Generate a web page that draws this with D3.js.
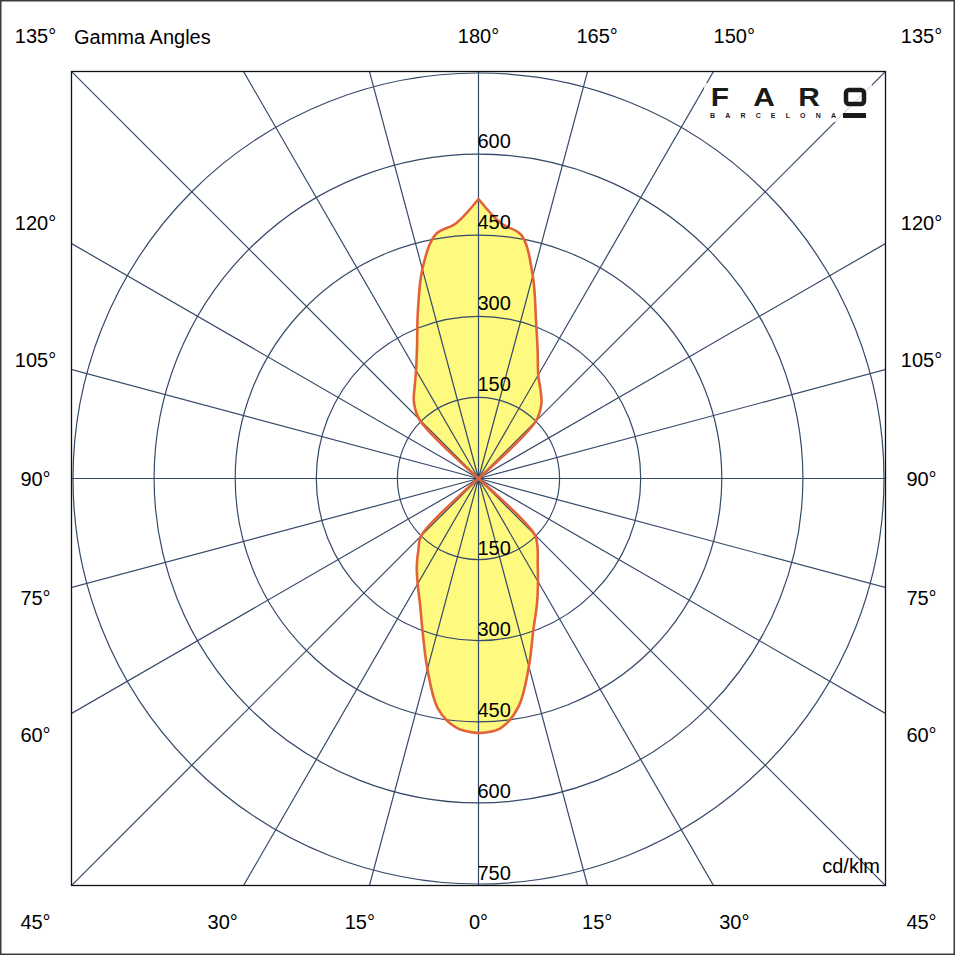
<!DOCTYPE html>
<html>
<head>
<meta charset="utf-8">
<script src="https://cdn.jsdelivr.net/npm/d3@7"></script>
<style>
  html, body { margin: 0; padding: 0; background: #fff; }
  svg { display: block; }
  text { font-family: "Liberation Sans", Arial, sans-serif; fill: #000; }
</style>
</head>
<body>
<div id="chart"></div>
<script>
// ---- data ----
const gammaAngles = [0,5,10,15,20,25,30,35,40,45,50,55,60,65,70,75,80,85,90,95,100,105,110,115,120,125,130,135,140,145,150,155,160,165,170,175,180];
// right half of the diagram (cd/klm)
const rightPlane = [471,464,428,360,297,256,220,191,170,147,0,0,0,0,0,0,0,0,0,0,0,0,0,0,0,0,0,150,181,200,221,259,311,388,457,474,517];
// left half of the diagram (cd/klm)
const leftPlane  = [471,463,432,365,302,256,225,199,173,150,0,0,0,0,0,0,0,0,0,0,0,0,0,0,0,0,0,155,186,206,231,269,328,401,458,474,517];
const radialTicks = [150, 300, 450, 600, 750];
const topValueLabels = ["150", "300", "450", "600"];
const bottomValueLabels = ["150", "300", "450", "600", "750"];
const angleTicks = [0, 15, 30, 45, 60, 75, 90, 105, 120, 135, 150, 165, 180];
const spokeAngles = d3.range(0, 360, 15);
const unitLabel = "cd/klm";
const titleLabel = "Gamma Angles";

// ---- layout ----
const W = 957, H = 957;
const cx = 478.5, cy = 478.5;
const frameHalf = 407;
const labelHalf = 443;
const rMax = 405.5;

const svg = d3.select("#chart").append("svg").attr("width", W).attr("height", H);

svg.append("rect").attr("x", 0.75).attr("y", 0.75).attr("width", 953.5).attr("height", 953.5)
  .attr("fill", "#fff").attr("stroke", "#3a3a3a").attr("stroke-width", 1.5);

const r = d3.scaleLinear().domain([0, 750]).range([0, rMax]);

svg.append("clipPath").attr("id", "plotclip").append("rect")
  .attr("x", cx - frameHalf).attr("y", cy - frameHalf)
  .attr("width", frameHalf * 2).attr("height", frameHalf * 2);

const plot = svg.append("g").attr("clip-path", "url(#plotclip)");
const g = plot.append("g").attr("transform", `translate(${cx},${cy})`);

// curve points: right side gamma 0..180 then left side 180..0
const pts = [];
gammaAngles.forEach((ga, i) => pts.push({ a: Math.PI - ga * Math.PI / 180, v: rightPlane[i] }));
for (let i = gammaAngles.length - 1; i >= 0; i--) {
  pts.push({ a: Math.PI + gammaAngles[i] * Math.PI / 180, v: leftPlane[i] });
}
const radial = d3.lineRadial().angle(d => d.a).radius(d => r(d.v)).curve(d3.curveCatmullRomClosed.alpha(0.5));

// fill
g.append("path").attr("d", radial(pts)).attr("fill", "#fef97f").attr("stroke", "none");

// grid circles
const gridColor = "#354968";
g.selectAll("circle.grid").data(radialTicks).join("circle")
  .attr("class", "grid").attr("r", d => r(d))
  .attr("fill", "none").attr("stroke", gridColor).attr("stroke-width", 1.2);

// spokes
g.selectAll("line.spoke").data(spokeAngles).join("line")
  .attr("class", "spoke")
  .attr("x1", 0).attr("y1", 0)
  .attr("x2", d => Math.sin(d * Math.PI / 180) * 700)
  .attr("y2", d => Math.cos(d * Math.PI / 180) * 700)
  .attr("stroke", gridColor).attr("stroke-width", 1.2);

// outline
g.append("path").attr("d", radial(pts)).attr("fill", "none")
  .attr("stroke", "#e2623a").attr("stroke-width", 2.6).attr("stroke-linejoin", "round");

// frame
svg.append("rect").attr("x", cx - frameHalf).attr("y", cy - frameHalf)
  .attr("width", frameHalf * 2).attr("height", frameHalf * 2)
  .attr("fill", "none").attr("stroke", "#111").attr("stroke-width", 1.3);

// value labels
const vl = svg.append("g").attr("font-size", 20);
topValueLabels.forEach((t, i) => {
  vl.append("text").attr("x", cx - 1).attr("y", cy - r(radialTicks[i]) - 6).text(t);
});
bottomValueLabels.forEach((t, i) => {
  vl.append("text").attr("x", cx - 1).attr("y", cy + r(radialTicks[i]) - 4.5).text(t);
});

// angle labels (top row shows only the right-hand side, plus the 135° corners)
const al = svg.append("g").attr("font-size", 20);
const seen = new Set();
angleTicks.forEach(ga => {
  [1, -1].forEach(s => {
    if (s === -1 && (ga === 0 || ga > 135)) return;
    const dx = s * Math.sin(ga * Math.PI / 180), dy = Math.cos(ga * Math.PI / 180);
    const t = labelHalf / Math.max(Math.abs(dx), Math.abs(dy));
    const x = cx + dx * t, y = cy + dy * t;
    const key = Math.round(x) + "," + Math.round(y);
    if (seen.has(key)) return;
    seen.add(key);
    al.append("text").attr("x", x).attr("y", y + 7.5).attr("text-anchor", "middle").text(ga + "°");
  });
});

svg.append("text").attr("x", 74).attr("y", 43.5).attr("font-size", 20).text(titleLabel);
svg.append("text").attr("x", 880).attr("y", 873).attr("font-size", 20).attr("text-anchor", "end").text(unitLabel);

// logo
const logo = svg.append("g");
logo.append("rect").attr("x", 704).attr("y", 83).attr("width", 168).attr("height", 39).attr("fill", "#fff").attr("opacity", 0.8);
const logoLetters = ["F", "A", "R"];
const logoX = [720, 764, 809];
logoLetters.forEach((l, i) => {
  logo.append("text").attr("x", logoX[i]).attr("y", 106).attr("text-anchor", "middle")
    .attr("font-size", 26).attr("font-weight", "bold").attr("transform", `translate(${logoX[i]},0) scale(1.15,1) translate(${-logoX[i]},0)`)
    .style("fill", "#1a1a1a").text(l);
});
logo.append("rect").attr("x", 846).attr("y", 90).attr("width", 18).attr("height", 14).attr("rx", 3)
  .attr("fill", "none").attr("stroke", "#1a1a1a").attr("stroke-width", 4.5);
logo.append("text").attr("x", 710).attr("y", 118).attr("font-size", 7).attr("font-weight", "bold")
  .attr("textLength", 126).attr("lengthAdjust", "spacing").style("fill", "#1a1a1a").text("BARCELONA");
logo.append("rect").attr("x", 843).attr("y", 113).attr("width", 23).attr("height", 5).attr("fill", "#1a1a1a");
</script>
</body>
</html>
